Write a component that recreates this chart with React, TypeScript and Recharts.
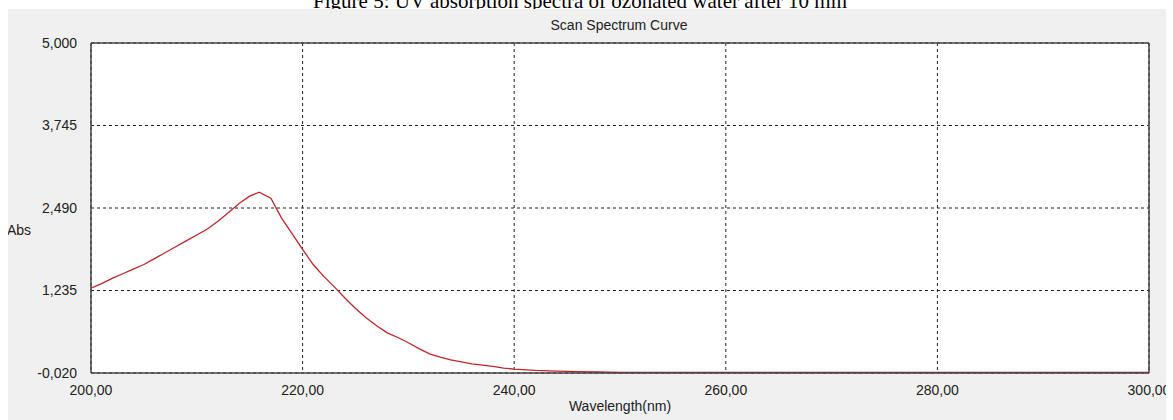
import React from 'react';
import { LineChart, Line, XAxis, YAxis, CartesianGrid, Label, ReferenceLine } from 'recharts';

const wavelengths = [200, 201, 202, 203, 204, 205, 206, 207, 208, 209, 210, 211, 212, 213, 214, 215, 215.9, 217, 218, 219, 220, 221, 222, 223, 224, 225, 226, 227, 228, 229, 230, 231, 232, 233, 234, 235, 236, 237, 238, 239, 240, 242, 244, 246, 248, 250, 260, 270, 280, 290, 300];
const absorbance = [1.27, 1.34, 1.42, 1.49, 1.56, 1.63, 1.72, 1.81, 1.9, 1.99, 2.08, 2.17, 2.29, 2.42, 2.56, 2.67, 2.73, 2.64, 2.34, 2.1, 1.86, 1.63, 1.45, 1.29, 1.12, 0.96, 0.82, 0.7, 0.59, 0.52, 0.44, 0.35, 0.27, 0.22, 0.18, 0.15, 0.12, 0.1, 0.08, 0.055, 0.04, 0.02, 0.01, 0.0, -0.005, -0.01, -0.01, -0.01, -0.01, -0.01, -0.01];
const xTicks = [200, 220, 240, 260, 280, 300];
const yTicks = [-0.02, 1.235, 2.49, 3.745, 5.0];

const caption = 'Figure 5: UV absorption spectra of ozonated water after 10 min';
const chartTitle = 'Scan Spectrum Curve';
const xTitle = 'Wavelength(nm)';
const yTitle = 'Abs';

const data = wavelengths.map((w, i) => ({ w, a: absorbance[i] }));

const fmtX = (v: number) => v.toFixed(2).replace('.', ',');
const fmtY = (v: number) => v.toFixed(3).replace('.', ',');

const FONT = '"Liberation Sans", Arial, sans-serif';
const tickStyle = { fill: '#222', fontSize: 14, fontFamily: FONT };

export default function App() {
  return (
    <div style={{ position: 'fixed', left: 0, top: 0, width: 1173, height: 420, background: '#fff', overflow: 'hidden' }}>
      <div
        style={{
          position: 'absolute',
          left: 0,
          width: 1160,
          top: -9,
          textAlign: 'center',
          fontFamily: '"Liberation Serif", "Times New Roman", serif',
          fontSize: 21,
          lineHeight: '21px',
          color: '#000',
          whiteSpace: 'nowrap',
        }}
      >
        {caption}
      </div>
      <div
        style={{
          position: 'absolute',
          left: 8,
          top: 9,
          width: 1158,
          height: 411,
          background: '#f0f0f0',
          overflow: 'hidden',
        }}
      >
        <LineChart width={1158} height={411} data={data} margin={{ top: 34, right: 17, bottom: 17, left: 23 }}>
          <CartesianGrid stroke="#222" strokeDasharray="3 3" strokeWidth={1} fill="#ffffff" />
          <XAxis
            dataKey="w"
            type="number"
            domain={[200, 300]}
            ticks={xTicks}
            tickFormatter={fmtX}
            height={30}
            tickLine={false}
            tickMargin={6}
            stroke="#444"
            strokeWidth={1.5}
            tick={tickStyle}
            allowDataOverflow
            interval={0}
          >
            <Label value={xTitle} position="bottom" offset={-2} style={tickStyle} />
          </XAxis>
          <YAxis
            type="number"
            domain={[-0.02, 5.0]}
            ticks={yTicks}
            tickFormatter={fmtY}
            width={60}
            tickLine={false}
            tickMargin={8}
            stroke="#444"
            strokeWidth={1.5}
            tick={tickStyle}
            allowDataOverflow
            interval={0}
          />
          <ReferenceLine y={5.0} stroke="#444" strokeWidth={1.5} />
          <ReferenceLine x={300} stroke="#444" strokeWidth={1.5} />
          <Line
            dataKey="a"
            type="linear"
            stroke="#c0242a"
            strokeWidth={1.3}
            dot={false}
            isAnimationActive={false}
          />
          <text x={611} y={21} textAnchor="middle" fill="#222" fontSize={14} fontFamily={FONT}>{chartTitle}</text>
          <text x={-1} y={226} textAnchor="start" fill="#222" fontSize={14} fontFamily={FONT}>{yTitle}</text>
        </LineChart>
      </div>
    </div>
  );
}
